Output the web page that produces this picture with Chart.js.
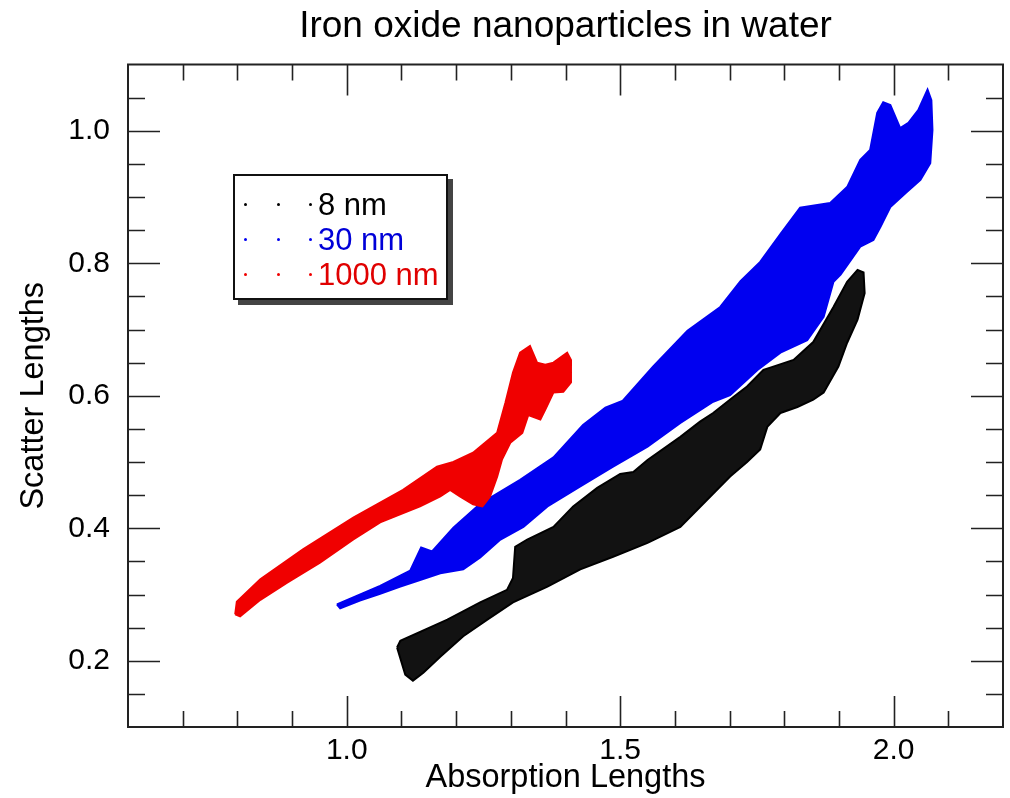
<!DOCTYPE html>
<html>
<head>
<meta charset="utf-8">
<script src="https://cdn.jsdelivr.net/npm/chart.js@4.4.0/dist/chart.umd.min.js"></script>
<style>
  html, body { margin: 0; padding: 0; background: #ffffff; }
  #wrap { position: relative; width: 1010px; height: 798px; }
  #legend {
    position: absolute; left: 233px; top: 174px; width: 211px; height: 122px;
    border: 2px solid #111; background: #fff; box-shadow: 5px 5px 0 #444;
    font-family: "Liberation Sans", Arial, Helvetica, sans-serif; font-size: 31px;
  }
  .lrow { position: absolute; left: 0; width: 100%; height: 35px; line-height: 35px; }
  .ldot { position: absolute; top: 16px; width: 3px; height: 3px; border-radius: 50%; }
  .ltxt { position: absolute; left: 83px; top: 0; white-space: nowrap; }
</style>
</head>
<body>
<div id="wrap">
  <canvas id="c" width="1010" height="798"></canvas>
  <div id="legend"></div>
</div>
<script>
// ---- Data ----
const titleText = 'Iron oxide nanoparticles in water';
const xAxisTitle = 'Absorption Lengths';
const yAxisTitle = 'Scatter Lengths';

const seriesNames  = ['8 nm', '30 nm', '1000 nm'];
const seriesColors = ['#000000', '#0000f0', '#f00000'];
const legendTextColors = ['#000000', '#0000d8', '#e00000'];

// 8 nm cloud outline (absorption, scatter)
const absorption8nm = [1.092,1.098,1.184,1.244,1.293,1.304,1.308,1.330,1.378,1.414,1.458,1.500,1.524,1.550,1.610,1.646,1.670,1.707,1.732,1.762,1.780,1.817,1.853,1.890,1.915,1.934,1.945,1.947,1.934,1.915,1.899,1.872,1.853,1.824,1.793,1.769,1.756,1.732,1.701,1.659,1.610,1.550,1.487,1.427,1.367,1.304,1.257,1.213,1.171,1.140,1.121,1.107];
const scatter8nm    = [0.220,0.230,0.262,0.288,0.307,0.325,0.372,0.383,0.402,0.433,0.461,0.482,0.485,0.503,0.538,0.561,0.574,0.598,0.614,0.639,0.644,0.654,0.681,0.734,0.772,0.790,0.786,0.755,0.715,0.680,0.644,0.605,0.594,0.583,0.574,0.553,0.519,0.500,0.478,0.443,0.402,0.378,0.357,0.338,0.312,0.288,0.262,0.237,0.206,0.182,0.170,0.179];

// 30 nm cloud outline
const absorption30nm = [0.982,1.061,1.116,1.136,1.156,1.195,1.244,1.317,1.378,1.432,1.473,1.504,1.560,1.623,1.683,1.720,1.756,1.793,1.829,1.884,1.915,1.939,1.957,1.970,1.981,1.994,2.012,2.027,2.045,2.062,2.069,2.071,2.067,2.049,2.022,1.994,1.976,1.963,1.939,1.903,1.890,1.872,1.842,1.793,1.751,1.701,1.670,1.610,1.550,1.487,1.427,1.367,1.323,1.281,1.244,1.213,1.171,1.134,1.098,1.061,1.024,0.988];
const scatter30nm    = [0.285,0.313,0.336,0.371,0.365,0.401,0.437,0.473,0.507,0.556,0.582,0.592,0.644,0.698,0.734,0.773,0.802,0.844,0.884,0.891,0.915,0.956,0.971,1.027,1.043,1.039,1.004,1.012,1.031,1.062,1.046,1.001,0.951,0.926,0.906,0.885,0.855,0.835,0.825,0.783,0.772,0.719,0.684,0.665,0.639,0.601,0.591,0.559,0.523,0.493,0.463,0.433,0.402,0.383,0.356,0.338,0.332,0.322,0.312,0.301,0.291,0.279];

// 1000 nm cloud outline
const absorption1000nm = [0.796,0.799,0.842,0.920,1.012,1.103,1.165,1.195,1.231,1.275,1.290,1.304,1.317,1.335,1.348,1.363,1.378,1.403,1.410,1.410,1.396,1.378,1.363,1.354,1.332,1.321,1.299,1.284,1.275,1.262,1.248,1.231,1.207,1.189,1.171,1.134,1.110,1.061,1.012,0.951,0.891,0.842,0.805];
const scatter1000nm    = [0.270,0.289,0.323,0.368,0.416,0.458,0.493,0.500,0.514,0.544,0.589,0.635,0.665,0.675,0.650,0.647,0.650,0.665,0.654,0.620,0.606,0.605,0.579,0.564,0.571,0.544,0.529,0.504,0.478,0.448,0.433,0.436,0.448,0.458,0.448,0.433,0.425,0.409,0.383,0.348,0.318,0.292,0.267];

// Axis ranges and ticks
const xRange = [0.6, 2.2];
const yRange = [0.1, 1.1];
const xMajorTicks = [1.0, 1.5, 2.0];
const xTickLabels = ['1.0', '1.5', '2.0'];
const xMinorTicks = [0.7,0.8,0.9,1.1,1.2,1.3,1.4,1.6,1.7,1.8,1.9,2.1];
const yMajorTicks = [0.2, 0.4, 0.6, 0.8, 1.0];
const yTickLabels = ['0.2', '0.4', '0.6', '0.8', '1.0'];
const yMinorTicks = [0.15,0.25,0.3,0.35,0.45,0.5,0.55,0.65,0.7,0.75,0.85,0.9,0.95,1.05];

// ---- Build chart ----
function outline(xs, ys) {
  const pts = xs.map((x, i) => ({ x: x, y: ys[i] }));
  pts.push({ x: xs[0], y: ys[0] });
  return pts;
}
const seriesX = [absorption8nm, absorption30nm, absorption1000nm];
const seriesY = [scatter8nm, scatter30nm, scatter1000nm];
const drawOrder = [2, 1, 0]; // red on top, black at bottom

const datasets = seriesNames.map((name, i) => ({
  label: name,
  data: outline(seriesX[i], seriesY[i]),
  showLine: true,
  fill: 'shape',
  backgroundColor: i === 0 ? 'rgba(0,0,0,0.93)' : seriesColors[i],
  borderColor: seriesColors[i],
  borderWidth: 2,
  pointRadius: 0,
  tension: 0,
  order: drawOrder[i]
}));

const FONT = '"Liberation Sans", Arial, Helvetica, sans-serif';

const frameTicks = {
  id: 'frameTicks',
  afterDatasetsDraw(chart) {
    const { ctx, chartArea: a, scales: { x, y } } = chart;
    ctx.save();
    ctx.strokeStyle = '#222';
    ctx.lineWidth = 1.6;
    ctx.beginPath();
    const xt = (list, len) => list.forEach(v => {
      const p = Math.round(x.getPixelForValue(v)) + 0.5;
      ctx.moveTo(p, a.bottom); ctx.lineTo(p, a.bottom - len);
      ctx.moveTo(p, a.top); ctx.lineTo(p, a.top + len);
    });
    const yt = (list, len) => list.forEach(v => {
      const p = Math.round(y.getPixelForValue(v)) + 0.5;
      ctx.moveTo(a.left, p); ctx.lineTo(a.left + len, p);
      ctx.moveTo(a.right, p); ctx.lineTo(a.right - len, p);
    });
    xt(xMajorTicks, 31); xt(xMinorTicks, 16);
    yt(yMajorTicks, 32); yt(yMinorTicks, 17);
    ctx.stroke();
    ctx.lineWidth = 2;
    ctx.strokeRect(a.left, a.top, a.right - a.left, a.bottom - a.top);
    ctx.restore();
  }
};

new Chart(document.getElementById('c'), {
  type: 'scatter',
  data: { datasets },
  options: {
    responsive: false,
    animation: false,
    layout: { padding: { left: 0, right: 7, top: 0, bottom: 0 } },
    plugins: {
      legend: { display: false },
      tooltip: { enabled: false },
      title: {
        display: true, text: titleText, fullSize: false, color: '#000',
        font: { family: FONT, size: 37, weight: 'normal' },
        padding: { top: 5, bottom: 15.1 }
      }
    },
    scales: {
      x: {
        type: 'linear', min: xRange[0], max: xRange[1],
        afterBuildTicks: s => { s.ticks = xMajorTicks.map(v => ({ value: v })); },
        afterFit: s => { s.height = 71; },
        grid: { display: false, drawTicks: false },
        border: { display: false },
        ticks: {
          padding: 6, color: '#000', maxRotation: 0,
          font: { family: FONT, size: 30 },
          callback: (v) => xTickLabels[xMajorTicks.findIndex(t => Math.abs(t - v) < 1e-9)]
        },
        title: { display: true, text: xAxisTitle, color: '#000', font: { family: FONT, size: 32.5 }, padding: { top: 0, bottom: 0 } }
      },
      y: {
        type: 'linear', min: yRange[0], max: yRange[1],
        afterBuildTicks: s => { s.ticks = yMajorTicks.map(v => ({ value: v })); },
        afterFit: s => { s.width = 128; },
        grid: { display: false, drawTicks: false },
        border: { display: false },
        ticks: {
          padding: 18, color: '#000',
          font: { family: FONT, size: 30 },
          callback: (v) => yTickLabels[yMajorTicks.findIndex(t => Math.abs(t - v) < 1e-9)]
        },
        title: { display: true, text: yAxisTitle, color: '#000', font: { family: FONT, size: 32.5 }, padding: { top: 15, bottom: 0 } }
      }
    }
  },
  plugins: [frameTicks]
});

// ---- Legend (HTML text) ----
const legendEl = document.getElementById('legend');
const dotOffsets = [9, 42, 74];
seriesNames.forEach((name, i) => {
  const row = document.createElement('div');
  row.className = 'lrow';
  row.style.top = (11 + i * 35) + 'px';
  dotOffsets.forEach(dx => {
    const d = document.createElement('span');
    d.className = 'ldot';
    d.style.left = dx + 'px';
    d.style.background = seriesColors[i];
    row.appendChild(d);
  });
  const t = document.createElement('span');
  t.className = 'ltxt';
  t.style.color = legendTextColors[i];
  t.textContent = name;
  row.appendChild(t);
  legendEl.appendChild(row);
});
</script>
</body>
</html>
